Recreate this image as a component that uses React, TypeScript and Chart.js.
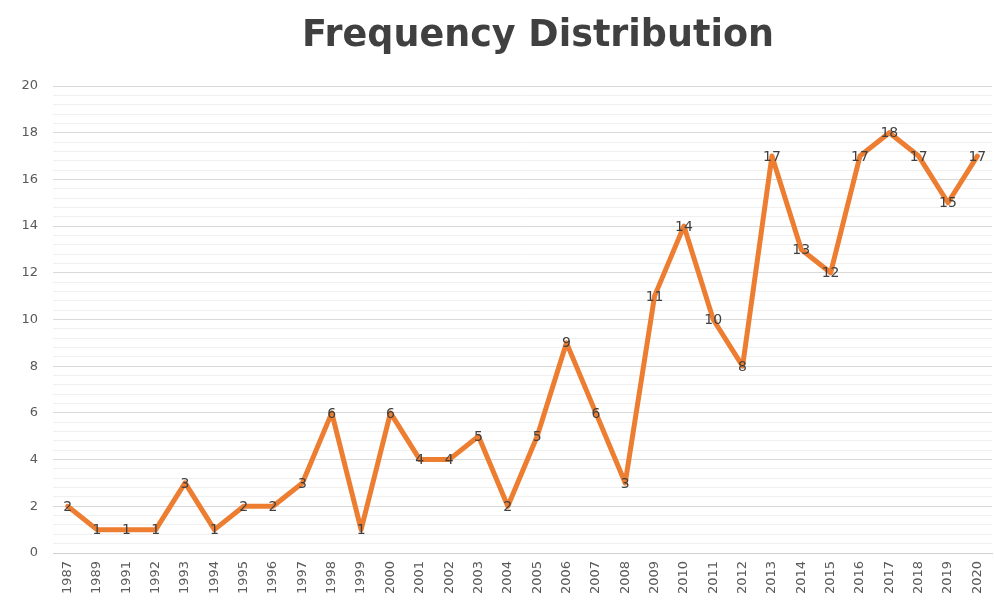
import React, { useEffect, useRef } from "react";
import { Chart, registerables } from "chart.js";

Chart.register(...registerables);

const TITLE = "Frequency Distribution";
const YEARS = ["1987","1989","1991","1992","1993","1994","1995","1996","1997","1998","1999","2000","2001","2002","2003","2004","2005","2006","2007","2008","2009","2010","2011","2012","2013","2014","2015","2016","2017","2018","2019","2020"];
const FREQ = [2,1,1,1,3,1,2,2,3,6,1,6,4,4,5,2,5,9,6,3,11,14,10,8,17,13,12,17,18,17,15,17];
const Y_MIN = 0;
const Y_MAX = 20;
const Y_STEP = 0.4;

const isMajor = (v: number) => Math.abs(v / 2 - Math.round(v / 2)) < 1e-6;

const titlePlugin = {
  id: "customTitle",
  afterDraw(chart: any) {
    const ctx = chart.ctx;
    ctx.save();
    ctx.font = "bold 36.5px 'DejaVu Sans'";
    ctx.fillStyle = "#404040";
    ctx.textAlign = "center";
    ctx.textBaseline = "middle";
    ctx.fillText(TITLE, 538, 37);
    ctx.restore();
  },
};

const labelPlugin = {
  id: "pointLabels",
  afterDatasetsDraw(chart: any) {
    const ctx = chart.ctx;
    const meta = chart.getDatasetMeta(0);
    ctx.save();
    ctx.font = "14px 'DejaVu Sans'";
    ctx.fillStyle = "#404040";
    ctx.textAlign = "center";
    ctx.textBaseline = "middle";
    meta.data.forEach((pt: any, i: number) => {
      ctx.fillText(String(FREQ[i]), pt.x, pt.y + 1);
    });
    ctx.restore();
  },
};

export default function App() {
  const ref = useRef<HTMLCanvasElement>(null);
  useEffect(() => {
    document.body.style.margin = "0";
    const chart = new Chart(ref.current!, {
      type: "line",
      data: {
        labels: YEARS,
        datasets: [
          {
            data: FREQ,
            borderColor: "#ED7D31",
            borderWidth: 5,
            pointRadius: 0,
            tension: 0,
            borderJoinStyle: "round",
            borderCapStyle: "round",
          },
        ],
      },
      options: {
        animation: false,
        responsive: false,
        layout: { padding: { top: 86, right: 2, left: 0, bottom: 0 } },
        plugins: { legend: { display: false }, title: { display: false }, tooltip: { enabled: false } },
        scales: {
          x: {
            offset: true,
            grid: { display: false, drawTicks: false },
            border: { display: true, color: "#d0d0d0", width: 1 },
            ticks: {
              autoSkip: false,
              maxRotation: 90,
              minRotation: 90,
              color: "#595959",
              font: { family: "'DejaVu Sans'", size: 13 },
              padding: 8,
            },
            afterFit(scale: any) {
              scale.height = 57;
              scale.paddingLeft = 0;
              scale.paddingRight = 0;
            },
          },
          y: {
            min: Y_MIN,
            max: Y_MAX,
            grid: {
              drawTicks: false,
              color: (c: any) => (isMajor(c.tick.value) ? "#d9d9d9" : "#f0f0f0"),
              lineWidth: 1,
            },
            border: { display: false },
            ticks: {
              stepSize: Y_STEP,
              autoSkip: false,
              maxTicksLimit: 100,
              color: "#595959",
              font: { family: "'DejaVu Sans'", size: 13 },
              padding: 15,
              callback: (v: any) => (isMajor(Number(v)) ? String(Math.round(Number(v))) : ""),
            },
            afterFit(scale: any) {
              scale.width = 53;
            },
          },
        },
      },
      plugins: [titlePlugin, labelPlugin],
    } as any);
    return () => chart.destroy();
  }, []);
  return <canvas ref={ref} width={994} height={610} style={{ display: "block" }} />;
}
